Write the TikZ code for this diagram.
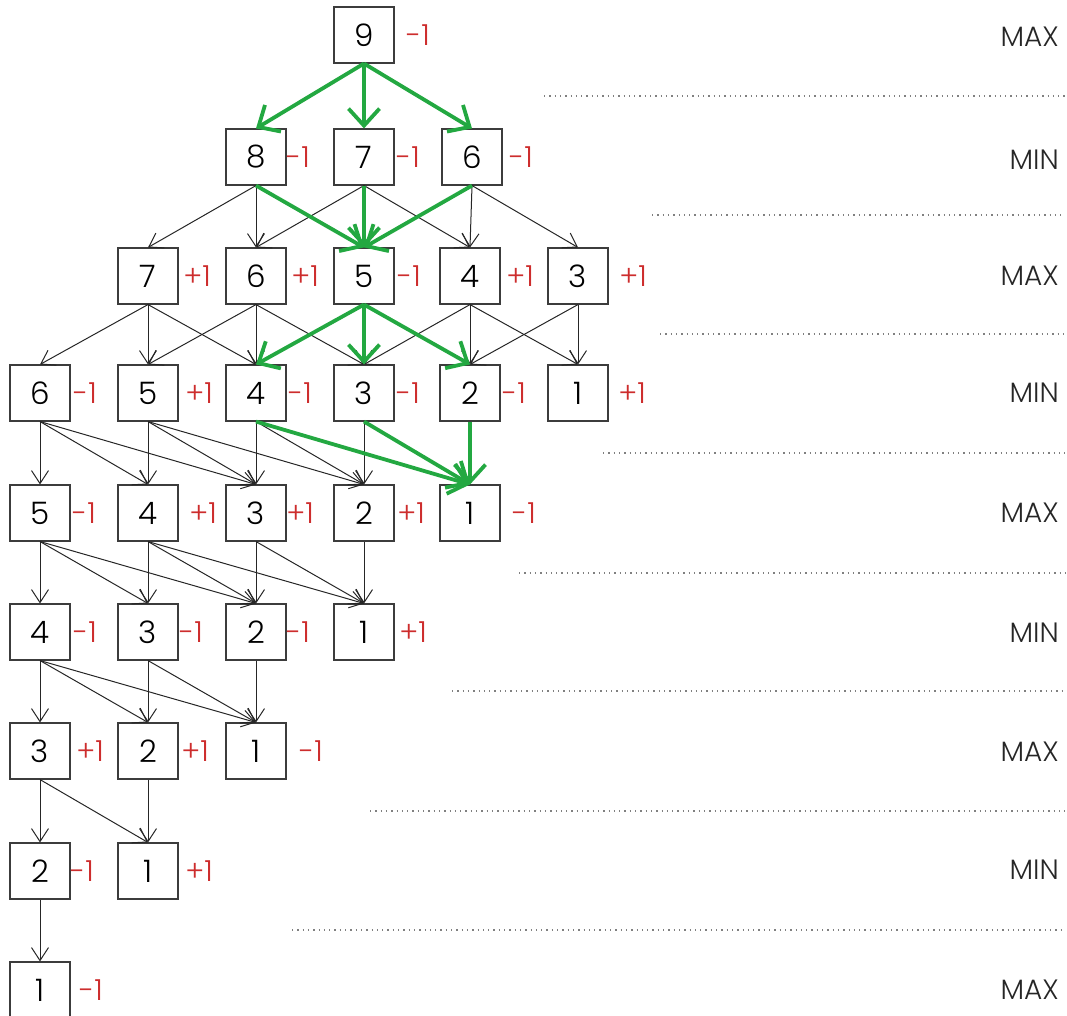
\documentclass[tikz,border=0pt]{standalone}
\usepackage{fontspec}
\setmainfont{Poppins}[UprightFont = * Light]
\usetikzlibrary{arrows.meta}
\definecolor{winred}{RGB}{205,45,45}
\definecolor{wingreen}{RGB}{35,168,65}
\definecolor{boxgray}{RGB}{60,60,60}
\tikzset{
  x=1pt, y=-1pt,
  state/.style={draw=boxgray, line width=1.1pt, minimum width=60pt, minimum height=56pt, inner sep=0pt, font=\fontsize{31}{31}\selectfont},
  val/.style={text=winred, font=\fontsize{29}{29}\selectfont, inner sep=0pt},
  lvl/.style={anchor=east, font=\fontsize{28}{28}\selectfont, text=black!85, inner sep=0pt},
  move/.style={draw=black!85, line width=1pt, -{Straight Barb[length=13pt,width=17pt,line width=1pt]}},
  best/.style={draw=wingreen, line width=3.8pt, -{Straight Barb[length=17pt,width=31pt,line width=3.8pt]}},
  sep/.style={draw=black!50, line width=1.3pt, dash pattern=on 1.3pt off 4pt}
}
\begin{document}
\begin{tikzpicture}
\useasboundingbox (0,0) rectangle (1067,1015);
% separators
\foreach \y/\x in {96/544, 215/652, 334/660, 453/603, 573/519, 691/452, 811/370, 930/292}
  \draw[sep] (\x,\y) -- (1065,\y);
% level labels
\foreach \y/\t in {37/MAX, 160/MIN, 276/MAX, 393/MIN, 513/MAX, 633/MIN, 752/MAX, 870/MIN, 990/MAX}
  \node[lvl] at (1059,\y) {\t};
% nodes: name/value/x/y/labelx/label
\foreach \n/\v/\x/\y/\lx/\l in {
  a9/9/364/35/418/-1,
  b8/8/256/157/298/-1, b7/7/364/157/408/-1, b6/6/472/157/521/-1,
  c7/7/148/276/197/+1, c6/6/256/276/305/+1, c5/5/364/276/409/-1, c4/4/470/276/520/+1, c3/3/578/276/633/+1,
  d6/6/40/393/85/-1, d5/5/148/393/199/+1, d4/4/256/393/300/-1, d3/3/364/393/408/-1, d2/2/470/393/514/-1, d1/1/578/393/632/+1,
  e5/5/40/513/84/-1, e4/4/148/513/203/+1, e3/3/256/513/300/+1, e2/2/364/513/411/+1, e1/1/470/513/524/-1,
  f4/4/40/632/85/-1, f3/3/148/632/191/-1, f2/2/256/632/298/-1, f1/1/364/632/413/+1,
  g3/3/40/751/90/+1, g2/2/148/751/195/+1, g1/1/256/751/311/-1,
  h2/2/40/871/82/-1, h1/1/148/871/199/+1,
  i1/1/40/990/91/-1}
{
  \node[state] (\n) at (\x,\y) {\v};
  \node[val] (\n l) at (\lx,\y) {\l};
}
% ordinary moves
\foreach \p/\c in {b8/c7, b8/c6, b7/c6, b7/c4, b6/c4, b6/c3,
  c7/d6, c7/d5, c7/d4, c6/d5, c6/d4, c6/d3, c4/d3, c4/d2, c4/d1, c3/d2, c3/d1,
  d6/e5, d6/e4, d6/e3, d5/e4, d5/e3, d5/e2, d4/e3, d4/e2, d3/e2,
  e5/f4, e5/f3, e5/f2, e4/f3, e4/f2, e4/f1, e3/f2, e3/f1, e2/f1,
  f4/g3, f4/g2, f4/g1, f3/g2, f3/g1, f2/g1,
  g3/h2, g3/h1, g2/h1, h2/i1}
  \draw[move] (\p.south) -- (\c.north);
% winning line
\foreach \p/\c in {a9/b8, a9/b7, a9/b6, b8/c5, b7/c5, b6/c5, c5/d4, c5/d3, c5/d2, d4/e1, d3/e1, d2/e1}
  \draw[best] (\p.south) -- (\c.north);
\end{tikzpicture}
\end{document}
